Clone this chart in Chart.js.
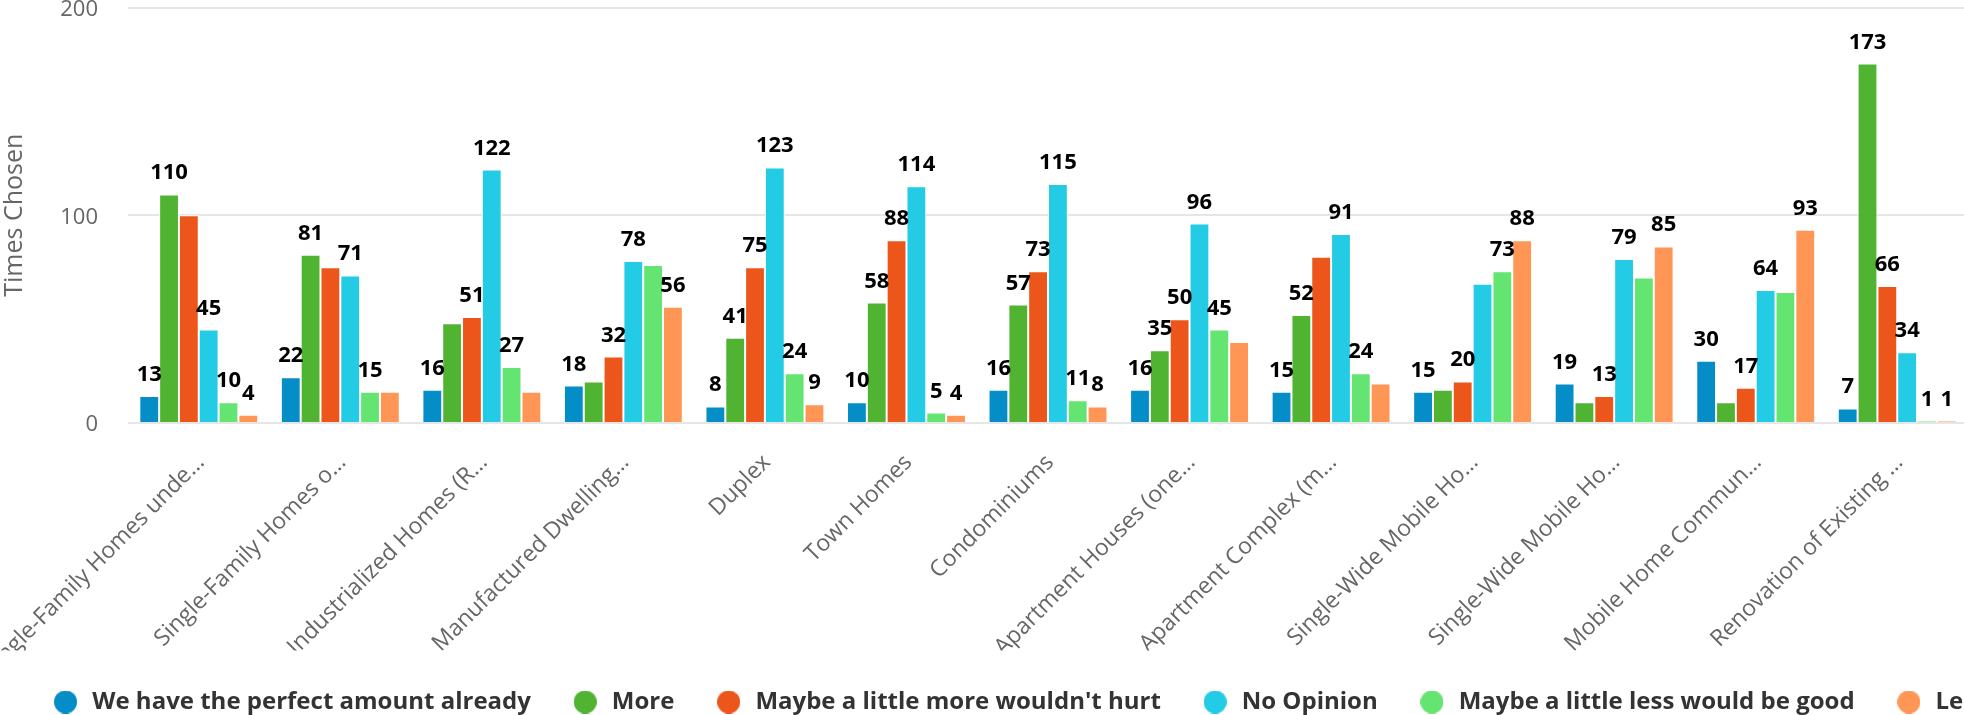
<!DOCTYPE html>
<html lang="en">
<head>
  <meta charset="UTF-8">
  <title>Times Chosen</title>
  <script src="https://cdn.jsdelivr.net/npm/chart.js@4.4.3/dist/chart.umd.min.js"></script>
  <style>
    html, body {
      margin: 0;
      padding: 0;
      overflow: hidden;
      background: #fff;
    }
    /* the original chart is wider than the window and gets clipped on the right */
    .chart-box {
      position: relative;
      width: 2082px;
      height: 715px;
    }
  </style>
</head>
<body>
  <div class="chart-box" id="chartBox">
    <canvas id="housingChart"></canvas>
  </div>

  <script>
    // Categories (truncated the same way as the original axis labels)
    const categories = [
      'Single-Family Homes unde…',
      'Single-Family Homes o…',
      'Industrialized Homes (R…',
      'Manufactured Dwelling…',
      'Duplex',
      'Town Homes',
      'Condominiums',
      'Apartment Houses (one…',
      'Apartment Complex (m…',
      'Single-Wide Mobile Ho…',
      'Single-Wide Mobile Ho…',
      'Mobile Home Commun…',
      'Renovation of Existing …'
    ];

    const seriesNames = [
      'We have the perfect amount already',
      'More',
      "Maybe a little more wouldn't hurt",
      'No Opinion',
      'Maybe a little less would be good',
      'Less'
    ];
    const seriesColors = ['#058DC7', '#50B432', '#ED561B', '#24CBE5', '#64E572', '#FF9655'];

    // Times chosen per answer
    const perfectAmount = [13, 22, 16, 18, 8, 10, 16, 16, 15, 15, 19, 30, 7];
    const more          = [110, 81, 48, 20, 41, 58, 57, 35, 52, 16, 10, 10, 173];
    const littleMore    = [100, 75, 51, 32, 75, 88, 73, 50, 80, 20, 13, 17, 66];
    const noOpinion     = [45, 71, 122, 78, 123, 114, 115, 96, 91, 67, 79, 64, 34];
    const littleLess    = [10, 15, 27, 76, 24, 5, 11, 45, 24, 73, 70, 63, 1];
    const less          = [4, 15, 15, 56, 9, 4, 8, 39, 19, 88, 85, 93, 1];

    const yMin = 0;
    const yMax = 200;
    const yStep = 100;

    const seriesValues = [perfectAmount, more, littleMore, noOpinion, littleLess, less];

    Chart.defaults.font.family = "'Open Sans', sans-serif";

    // --- layout numbers ---
    const padLeft = -40;        // canvas starts a bit left of the window
    const plotRight = 1968;     // plot runs past the right edge of the window
    const plotBottom = 423;
    const padBottom = -9;
    const firstDot = 65.7;      // centre of first legend dot
    const lastDot = 1909;       // centre of last legend dot
    const legendFontSize = 24;
    const legendBox = 29.4;     // room for the dot before the text starts
    const dotSize = 23;

    // round legend dots, one small canvas per colour
    function makeDot(color) {
      const c = document.createElement('canvas');
      c.width = dotSize;
      c.height = dotSize;
      const g = c.getContext('2d');
      g.fillStyle = color;
      g.beginPath();
      g.arc(dotSize / 2, dotSize / 2, dotSize / 2, 0, Math.PI * 2);
      g.fill();
      return c;
    }

    // spread the legend so the dots land where they were in the original
    const measureCtx = document.createElement('canvas').getContext('2d');
    measureCtx.font = 'bold ' + legendFontSize + "px 'Open Sans', sans-serif";
    const textW = seriesNames.map(n => measureCtx.measureText(n).width);
    const itemBase = legendBox + legendFontSize / 2;
    const firstFive = textW.slice(0, 5).reduce((s, w) => s + w, 0);
    const legendGap = (lastDot - firstDot - 5 * itemBase - firstFive) / 5;
    const lineWidth = textW.reduce((s, w) => s + w + itemBase + legendGap, 0);
    const x0 = firstDot - legendBox / 2;
    const canvasWidth = Math.round(2 * x0 - padLeft - legendGap + lineWidth);
    document.getElementById('chartBox').style.width = canvasWidth + 'px';

    const legendHeight = legendFontSize + legendGap + 10;
    const xAxisHeight = 715 - padBottom - legendHeight - plotBottom;

    // Value labels above the bars; overlapping ones are dropped, taller bars win
    const valueLabels = {
      id: 'valueLabels',
      afterDatasetsDraw(chart) {
        const ctx = chart.ctx;
        ctx.save();
        ctx.font = "bold 22px 'Open Sans', sans-serif";
        ctx.fillStyle = '#000';
        ctx.textAlign = 'center';
        ctx.textBaseline = 'alphabetic';

        const items = [];
        chart.data.datasets.forEach((ds, di) => {
          const meta = chart.getDatasetMeta(di);
          if (meta.hidden) return;
          meta.data.forEach((bar, i) => {
            const text = String(ds.data[i]);
            items.push({
              text,
              x: bar.x,
              y: bar.y - 15,
              w: ctx.measureText(text).width,
              rank: ds.data[i],
              order: items.length
            });
          });
        });

        items.sort((a, b) => b.rank - a.rank || a.order - b.order);
        const placed = [];
        items.forEach(it => {
          const box = { l: it.x - it.w / 2, r: it.x + it.w / 2, t: it.y - 22, b: it.y + 6 };
          const hit = placed.some(p => box.l < p.r - 0.5 && box.r > p.l + 0.5 && box.t < p.b && box.b > p.t);
          if (hit) return;
          placed.push(box);
          ctx.fillText(it.text, it.x, it.y);
        });
        ctx.restore();
      }
    };

    const ctx = document.getElementById('housingChart').getContext('2d');
    const housingChart = new Chart(ctx, {
      type: 'bar',
      data: {
        labels: categories,
        datasets: seriesNames.map((name, i) => ({
          label: name,
          data: seriesValues[i],
          backgroundColor: seriesColors[i],
          borderColor: '#ffffff',
          borderWidth: 1,
          pointStyle: makeDot(seriesColors[i]),
          categoryPercentage: 0.84,
          barPercentage: 1.0
        }))
      },
      options: {
        responsive: true,
        maintainAspectRatio: false,
        animation: false,
        layout: {
          padding: { left: padLeft, right: 0, top: 7.5, bottom: padBottom }
        },
        scales: {
          x: {
            grid: { display: false },
            border: { display: false },
            ticks: {
              autoSkip: false,
              maxRotation: 45,
              minRotation: 45,
              padding: 18,
              labelOffset: 2,
              color: '#666666',
              font: { size: 23 }
            },
            afterFit(scale) {
              scale.height = xAxisHeight;
              scale.paddingLeft = 0;
              scale.paddingRight = 0;
            }
          },
          y: {
            min: yMin,
            max: yMax,
            border: { display: false },
            grid: { color: '#e6e6e6', lineWidth: 2, drawTicks: false },
            ticks: {
              stepSize: yStep,
              padding: 30,
              labelOffset: 2,
              color: '#666666',
              font: { size: 22 }
            },
            title: {
              display: true,
              text: 'Times Chosen',
              color: '#666666',
              font: { size: 25 },
              padding: { top: 40, bottom: 0 }
            },
            afterFit(scale) {
              scale.width = 128 - padLeft;
              scale.paddingTop = 0;
              scale.paddingBottom = 0;
            }
          },
          // empty right axis, only keeps room so the plot ends where the original did
          yRight: {
            type: 'linear',
            position: 'right',
            display: true,
            grid: { display: false },
            border: { display: false },
            ticks: { display: false },
            afterFit(scale) {
              scale.width = canvasWidth - plotRight;
              scale.paddingTop = 0;
              scale.paddingBottom = 0;
            }
          }
        },
        plugins: {
          tooltip: { enabled: false },
          legend: {
            position: 'bottom',
            labels: {
              usePointStyle: true,
              pointStyleWidth: legendBox,
              boxHeight: 16.3,
              padding: legendGap,
              color: '#333333',
              font: { size: legendFontSize, weight: 'bold' }
            }
          }
        }
      },
      plugins: [valueLabels]
    });
  </script>
</body>
</html>
